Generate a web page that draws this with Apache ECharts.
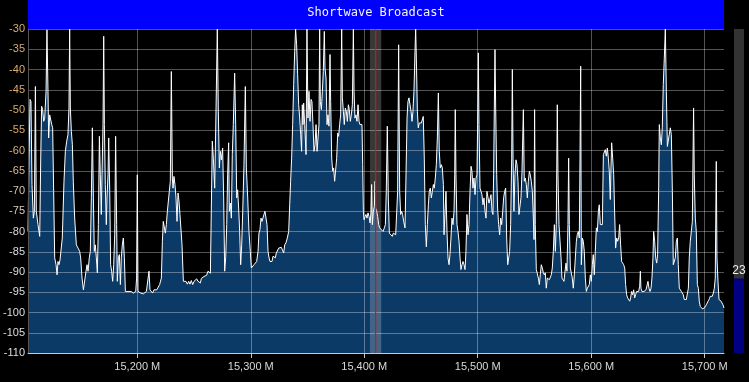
<!DOCTYPE html>
<html>
<head>
<meta charset="utf-8">
<script src="https://cdn.jsdelivr.net/npm/echarts@6/dist/echarts.min.js"></script>
<style>
html,body{margin:0;padding:0;background:#000;}
#c{width:749px;height:382px;}
</style>
</head>
<body>
<div id="c"></div>
<script>
const titleText = 'Shortwave Broadcast';
const freqMin = 15103.7, freqMax = 15717.0;   // kHz shown, labelled "M"
const levelMin = -110, levelMax = -30, levelStep = 5;
const tunedCenter = 15410, filterLow = 15405, filterHigh = 15415;
const meterValue = 23;

const freqKHz = [
15103.7,15104.6,15105.5,15106.3,15107.2,15108.4,15109.3,15110.2,15111.0,15112.5,
15114.0,15114.9,15115.7,15116.6,15117.5,15118.4,15119.6,15120.4,15121.3,15121.9,
15122.8,15123.7,15124.6,15125.4,15126.3,15127.2,15128.4,15129.3,15130.1,15131.0,
15131.9,15133.1,15133.9,15135.4,15136.6,15137.8,15138.9,15139.8,15140.4,15141.0,
15141.9,15142.8,15143.6,15144.8,15146.3,15147.8,15149.2,15150.1,15151.3,15152.5,
15153.6,15154.8,15155.7,15156.6,15157.7,15158.6,15159.5,15160.4,15161.3,15162.1,
15163.0,15163.9,15164.8,15165.7,15166.6,15167.4,15168.3,15168.9,15169.8,15170.4,
15171.0,15171.8,15172.7,15173.3,15174.2,15174.8,15175.7,15176.5,15177.4,15178.3,
15179.2,15180.1,15180.9,15181.8,15182.4,15183.3,15184.2,15185.1,15185.9,15186.8,
15187.7,15188.6,15189.5,15190.6,15191.8,15193.3,15194.7,15195.6,15196.5,15197.7,
15198.6,15199.4,15200.0,15200.6,15201.8,15203.0,15204.1,15205.3,15206.5,15208.0,
15209.4,15210.3,15211.2,15212.4,15213.5,15214.7,15215.9,15217.1,15218.2,15219.7,
15221.2,15222.1,15222.9,15223.8,15224.7,15225.6,15226.5,
15228.2,15229.1,15230.0,15230.9,15231.5,15232.3,15233.2,15234.1,15235.0,15235.9,
15236.8,15237.6,15238.5,15239.4,15240.6,15241.7,15242.9,15244.1,15245.3,15246.4,
15247.6,15248.8,15250.0,15251.1,15252.3,15253.5,15254.7,15255.6,15256.4,15257.6,
15258.8,15260.0,15261.1,15262.3,15263.5,15264.4,15265.2,15266.1,15267.0,15268.2,
15269.4,15270.5,15271.4,15272.3,15273.2,15274.1,15275.2,15276.1,15277.0,15277.9,
15278.8,15279.6,15280.5,15281.1,15282.0,15282.9,15283.7,15284.6,15285.8,15286.7,
15287.6,15288.4,15289.3,15290.2,15291.1,15292.0,15292.9,15294.0,15295.2,15296.1,
15297.3,15298.4,15299.6,15300.5,15301.7,15302.8,15304.0,15305.2,15306.4,15307.2,
15308.1,15309.0,15309.9,15310.8,15311.6,15312.5,15313.4,15314.3,15315.2,15316.1,
15316.9,15317.8,15318.7,15319.6,15320.8,15321.6,15322.5,15323.4,15324.6,15325.2,
15326.0,15326.9,15328.1,15329.0,15329.9,15331.0,15332.2,15333.4,15334.3,15335.1,
15336.0,15336.9,15337.8,15338.7,15339.5,15340.4,15341.3,15342.2,15343.1,15344.0,
15344.8,15345.4,15346.0,15346.6,15347.5,15348.7,
15349.5,15350.4,15351.3,15352.2,15353.1,15353.9,15354.8,15355.7,15356.6,15357.5,
15358.4,15359.2,15360.1,15360.7,15361.3,15362.2,15363.1,15363.9,15364.8,15365.4,
15366.3,15367.2,15368.0,15368.9,15369.8,15370.4,15371.3,15372.2,15373.0,15373.9,
15374.8,15375.7,15376.6,15377.4,15378.3,15379.2,15380.1,15380.7,15381.6,15382.4,
15383.3,15384.2,15385.1,15386.0,15386.8,15387.7,15388.6,15389.5,15390.4,15391.0,
15391.8,15392.7,15393.6,15394.5,15395.4,15396.2,15397.1,15398.0,15398.6,15399.2,
15399.8,15400.7,15401.5,15402.4,15403.3,15404.2,15405.1,15405.9,15406.5,15407.1,
15408.0,15408.9,15409.5,15410.0,15410.9,15411.8,15412.7,15413.6,15414.5,15415.3,
15416.5,15417.7,15418.6,15419.4,15420.3,15421.2,15422.1,15423.0,15423.8,15424.7,
15425.6,15426.5,15427.7,15428.5,15429.4,15430.3,15431.2,15432.1,15432.9,15433.8,
15434.7,15435.9,15436.8,15437.7,15438.5,15439.4,15440.3,15441.2,15442.1,15442.9,
15443.8,15444.7,15445.3,15445.9,15446.8,15447.6,15448.5,15449.4,15450.3,15451.2,
15452.0,15452.9,15453.8,15454.7,15455.6,15456.5,15457.3,15458.2,15459.1,15460.0,
15460.9,15461.7,15462.6,15463.5,15464.4,15465.3,15466.1,15467.0,15467.9,15468.8,
15469.7,
15470.3,15471.1,15472.0,15472.9,15473.8,15474.7,15475.5,15476.4,15477.3,15478.2,
15479.1,15479.7,15480.2,15480.8,15481.7,15482.6,15483.5,15484.4,15485.2,15486.1,
15487.0,15487.9,15488.8,15489.6,15490.5,15491.4,15492.3,15493.2,15494.1,15494.9,
15495.8,15496.7,15497.6,15498.5,15499.3,15499.9,15500.5,15501.1,15502.0,15502.9,
15503.7,15504.6,15505.5,15506.4,15507.3,15508.1,15509.0,15509.9,15510.8,15511.7,
15512.6,15513.4,15514.0,15514.6,15515.2,15515.8,15516.7,15517.5,15518.4,15519.3,
15520.2,15521.1,15522.0,15522.8,15523.7,15524.6,15525.5,15526.4,15527.2,15528.1,
15529.0,15529.9,15530.5,15531.1,15531.9,15532.8,15533.7,15534.6,15535.5,15536.3,
15537.2,15538.1,15539.0,15539.9,15540.2,15541.0,15541.9,15542.8,15543.7,15544.6,
15545.5,15546.3,15547.2,15548.1,15549.0,15549.6,15550.1,15550.7,15551.6,15552.5,
15553.4,15554.3,15555.1,15556.0,15556.9,15557.8,15558.7,15559.5,15560.4,15561.3,
15562.2,15563.1,15563.9,15564.8,15565.7,15566.6,15567.5,15568.4,15569.2,15570.1,
15570.7,15571.6,15572.5,15573.4,15574.2,15575.1,15576.0,15576.9,15577.8,15578.6,
15579.5,15580.1,15580.7,15581.6,15582.5,15583.3,15584.2,15585.1,15586.0,15586.9,
15587.7,15588.6,15589.5,15590.1,15590.7,
15591.3,15592.2,15593.0,15593.9,15594.8,15595.7,15596.6,15597.4,15598.3,15599.2,
15600.1,15601.0,15601.8,15602.7,15603.6,15604.5,15605.4,15606.3,15607.1,15608.0,
15608.9,15609.8,15610.7,15611.5,15612.4,15613.3,15614.2,15615.1,15615.9,15616.8,
15617.4,15618.0,15618.9,15619.8,15620.6,15621.5,15622.4,15623.3,15624.2,15625.0,
15625.9,15626.8,15627.7,15628.6,15629.5,15630.3,15631.2,15632.1,15633.0,15633.9,
15634.7,15635.6,15636.5,15637.4,15638.3,15639.1,15640.0,15640.9,15641.8,15642.7,
15643.3,15643.8,15644.7,15645.6,15646.5,15647.4,15648.3,15649.1,15650.0,15650.9,
15651.8,15652.7,15653.5,15654.4,15655.0,15655.9,15656.8,15657.7,15658.5,15659.4,
15660.0,15660.9,15661.8,15662.6,15663.5,15664.4,15665.3,15666.2,15667.1,15667.9,
15668.8,15669.7,15670.6,15671.5,15672.3,15673.2,15674.1,15675.0,15675.9,15676.7,
15677.6,15678.5,15679.4,15680.3,15681.1,15682.0,15682.9,15683.8,15684.7,15685.6,
15686.4,15687.3,15688.2,15689.1,15689.7,15690.2,15690.8,15691.7,15692.6,15693.5,
15694.4,15695.2,15696.1,15697.0,15697.9,15698.8,15699.7,15700.5,15701.4,15702.3,
15703.2,15704.1,15704.9,15705.8,15706.7,15707.6,15708.5,15709.3,15710.2,15710.8,
15711.7,15712.6,15713.5,15714.4,15715.2,15716.1,15717.0
];

const levelDb = [
-80.0,-61.9,-47.4,-47.9,-68.4,-76.7,-75.0,-44.2,-75.0,-78.3,
-81.2,-61.9,-49.1,-49.9,-52.8,-52.0,-45.4,-30.2,-45.4,-56.9,
-51.2,-51.0,-53.6,-54.4,-70.1,-86.5,-88.2,-90.7,-87.4,-88.2,
-87.0,-87.4,-81.6,-67.6,-60.2,-57.7,-56.1,-49.5,-30.0,-49.5,
-55.3,-58.6,-67.6,-76.7,-83.3,-84.1,-84.9,-86.5,-91.5,-94.4,
-94.4,-89.8,-88.2,-89.8,-86.5,-84.9,-71.7,-54.4,-71.7,-84.9,
-83.3,-86.5,-90.2,-78.3,-56.5,-66.0,-75.8,-66.0,-53.6,-31.8,
-53.6,-68.4,-78.3,-71.7,-66.0,-56.9,-70.1,-88.2,-89.8,-92.3,
-88.2,-80.8,-56.5,-78.3,-92.3,-86.5,-85.7,-93.1,-86.5,-83.3,
-81.6,-86.5,-94.8,-95.2,-94.8,-95.2,-94.8,-94.4,-95.2,-95.6,
-94.8,-91.5,-66.0,-94.8,-94.4,-95.2,-94.8,-95.4,-95.2,-94.8,
-94.4,-89.8,-94.4,-94.8,-95.2,-94.4,-94.0,-94.4,-94.0,-93.1,
-91.5,-82.4,-77.5,-77.1,-80.4,-78.3,-75.0,
-70.1,-67.6,-40.5,-66.8,-69.3,-66.4,-68.4,-71.7,-77.5,-70.5,
-72.6,-75.8,-75.8,-83.3,-92.3,-92.7,-92.3,-93.0,-92.3,-93.0,
-92.1,-93.1,-92.3,-91.9,-91.7,-92.3,-91.9,-92.7,-91.6,-91.9,
-91.1,-90.7,-90.8,-89.8,-89.4,-90.3,-75.0,-57.7,-61.9,-69.3,
-49.5,-30.0,-50.3,-64.3,-60.2,-62.3,-59.4,-71.7,-89.8,-86.5,
-78.3,-66.0,-58.1,-75.0,-73.0,-76.7,-61.0,-53.6,-40.9,-53.6,
-71.7,-69.7,-74.2,-80.0,-88.2,-83.3,-75.0,-63.5,-44.2,-64.3,
-71.7,-80.0,-84.9,-89.0,-88.6,-88.2,-88.2,-87.4,-84.9,-80.4,
-79.5,-76.7,-77.5,-77.1,-75.8,-75.0,-75.0,-78.3,-84.9,-86.5,
-87.4,-87.0,-87.4,-86.1,-85.7,-86.5,-85.3,-84.9,-84.1,-83.7,
-84.5,-83.9,-83.7,-85.3,-83.3,-82.8,-81.6,-80.0,-73.4,-67.6,
-61.9,-53.6,-43.7,-35.5,-30.0,-33.9,-41.3,-48.7,-52.0,-56.1,
-60.2,-48.7,-53.6,-48.3,-53.6,-61.0,
-30.0,-52.0,-45.4,-52.8,-47.4,-47.9,-53.6,-60.2,-58.6,-53.6,
-60.2,-60.6,-53.6,-30.0,-47.9,-49.9,-45.4,-40.5,-30.6,-39.6,
-42.1,-53.6,-51.2,-54.0,-36.3,-47.9,-61.9,-65.1,-64.3,-67.6,
-68.0,-61.9,-55.7,-56.5,-53.6,-51.2,-30.0,-47.0,-50.3,-53.6,
-49.5,-50.3,-52.8,-48.7,-49.9,-52.8,-51.2,-48.7,-30.0,-45.4,
-52.0,-51.2,-52.8,-48.7,-52.8,-53.6,-53.6,-53.6,-63.5,-75.0,
-77.1,-76.3,-75.8,-76.7,-75.4,-76.3,-77.9,-75.4,-68.4,-78.3,
-75.0,-73.8,-67.6,-74.2,-75.0,-76.3,-78.3,-79.1,-78.7,-79.5,
-80.0,-79.1,-78.3,-70.1,-54.0,-71.7,-80.4,-80.8,-80.4,-81.2,
-80.4,-80.8,-80.8,-80.9,-70.1,-33.9,-70.1,-75.8,-75.0,-75.8,
-77.5,-79.1,-66.0,-52.0,-47.9,-47.0,-48.7,-50.3,-52.8,-50.3,
-45.4,-35.5,-30.0,-37.2,-50.3,-54.4,-53.2,-53.6,-53.2,-52.8,
-51.6,-61.9,-78.3,-83.8,-78.3,-73.4,-70.1,-69.3,-71.7,-70.1,
-68.4,-69.3,-66.8,-63.5,-56.9,-45.8,-60.2,-64.3,-63.5,-64.3,
-68.4,
-80.8,-75.8,-70.1,-80.0,-86.5,-88.2,-85.7,-81.6,-76.7,-78.3,
-75.0,-66.0,-49.9,-66.0,-78.3,-80.0,-82.4,-86.5,-89.4,-88.2,
-87.4,-88.2,-89.4,-84.9,-75.8,-80.8,-78.3,-70.1,-63.9,-65.1,
-69.3,-66.8,-70.9,-66.8,-66.0,-53.6,-35.9,-53.6,-69.3,-70.1,
-70.9,-73.4,-71.7,-75.0,-76.7,-70.1,-69.7,-73.0,-73.4,-70.9,
-75.0,-75.8,-66.0,-49.5,-35.1,-49.5,-66.0,-74.2,-78.3,-80.8,
-76.7,-78.3,-75.0,-71.7,-70.1,-69.3,-81.6,-88.2,-87.8,-84.9,
-78.3,-61.9,-40.0,-61.9,-75.0,-66.0,-62.3,-63.5,-67.6,-75.8,
-75.4,-71.7,-65.1,-53.6,-49.9,-67.6,-66.8,-68.4,-71.7,-67.6,
-65.1,-66.0,-67.6,-70.1,-76.7,-82.0,-49.9,-78.3,-89.4,-89.8,
-91.5,-93.1,-90.7,-88.2,-89.0,-90.2,-90.7,-90.2,-94.0,-91.5,
-91.9,-91.9,-91.5,-90.7,-89.0,-84.9,-78.3,-84.9,-78.3,-48.7,
-66.0,-78.3,-82.4,-86.5,-91.5,-91.9,-92.3,-89.8,-87.8,-89.8,
-78.3,-61.9,-78.3,-89.0,-89.0,-91.5,-94.0,-90.7,-86.5,-82.4,
-80.8,-80.0,-81.6,-61.9,-39.2,
-88.2,-81.6,-82.4,-84.9,-91.5,-94.8,-94.0,-94.4,-93.1,-90.7,
-92.3,-88.2,-85.7,-90.7,-84.9,-79.1,-80.0,-75.0,-73.4,-78.3,
-78.3,-78.3,-61.0,-60.6,-59.8,-61.4,-59.4,-61.9,-65.1,-72.1,
-64.3,-58.1,-61.9,-66.0,-75.0,-84.1,-81.6,-82.4,-81.6,-78.3,
-83.3,-87.4,-87.4,-88.2,-89.0,-93.1,-95.6,-96.4,-96.8,-97.2,
-96.4,-94.8,-95.6,-94.4,-96.4,-95.6,-94.8,-94.4,-94.8,-93.5,
-89.8,-94.0,-94.8,-94.8,-94.8,-95.2,-94.4,-94.0,-92.3,-94.0,
-94.8,-94.0,-91.5,-86.5,-80.0,-82.4,-86.5,-87.8,-85.7,-70.1,
-53.6,-56.9,-58.6,-54.4,-43.7,-37.2,-30.0,-45.4,-59.0,-59.4,
-58.6,-54.4,-56.1,-70.1,-88.2,-88.6,-86.5,-82.4,-81.6,-88.2,
-94.0,-94.0,-94.8,-94.8,-95.6,-96.8,-96.4,-96.8,-96.4,-94.0,
-86.5,-82.4,-80.0,-77.5,-61.9,-49.5,-66.0,-76.7,-80.0,-93.1,
-94.0,-97.2,-98.5,-98.9,-99.1,-98.7,-98.9,-98.5,-98.1,-97.7,
-97.1,-96.6,-96.0,-95.6,-96.0,-95.2,-94.0,-91.5,-62.7,-86.5,
-92.3,-96.8,-97.1,-97.2,-97.2,-98.1,-98.9
];

const spectrum = freqKHz.map((f, i) => [f, levelDb[i]]);

function mix(a, b, t) {
  return 'rgb(' + a.map((v, i) => Math.round(v + (b[i] - v) * t)).join(',') + ')';
}
const tan = [216, 170, 110], pale = [220, 222, 230];
function yLabelColor(v) {
  const t = Math.min(1, Math.max(0, (-55 - Number(v)) / 30));
  return mix(tan, pale, t);
}

const chart = echarts.init(document.getElementById('c'), null, { renderer: 'canvas' });
chart.setOption({
  backgroundColor: '#000',
  animation: false,
  graphic: [
    { type: 'rect', left: 28, top: 0, shape: { width: 696, height: 29 }, style: { fill: '#0000ff' }, z: 0 },
    { type: 'text', x: 376, y: 12.5, z: 1,
      style: { text: titleText, fill: '#f4f4ff', font: '12px "DejaVu Sans Mono"', textAlign: 'center', textVerticalAlign: 'middle' } }
  ],
  grid: [
    { left: 28, top: 29, right: 25, bottom: 29 },
    { left: 732, top: 29, width: 14, bottom: 29 }
  ],
  xAxis: [
    { type: 'value', gridIndex: 0, min: freqMin, max: freqMax, z: 3,
      axisLine: { show: true, onZero: false, lineStyle: { color: '#c8c8c8', width: 1 } },
      axisTick: { show: true, length: 5, lineStyle: { color: '#c8c8c8' } },
      axisLabel: { color: '#d8d8d8', fontSize: 11, fontFamily: 'Liberation Sans', margin: 8,
        showMinLabel: false, showMaxLabel: false,
        formatter: v => (Math.abs(v % 100) < 1e-6) ? (Math.round(v).toLocaleString('en-US') + ' M') : '' },
      splitLine: { show: true, showMinLine: true, showMaxLine: false, lineStyle: { color: 'rgba(255,255,255,0.33)', width: 1 } } },
    { type: 'category', gridIndex: 1, data: ['S'], show: false }
  ],
  yAxis: [
    { type: 'value', gridIndex: 0, min: levelMin, max: levelMax, interval: levelStep, z: 3,
      axisLine: { show: true, lineStyle: { color: '#555' } },
      axisTick: { show: false },
      axisLabel: { fontSize: 11, fontFamily: 'Liberation Sans', margin: 3, color: yLabelColor },
      splitLine: { show: true, lineStyle: { color: 'rgba(255,255,255,0.33)', width: 1 } } },
    { type: 'value', gridIndex: 1, min: 0, max: 100, show: false }
  ],
  series: [
    { type: 'line', name: 'spectrum', xAxisIndex: 0, yAxisIndex: 0, data: spectrum,
      symbol: 'none', showSymbol: false, clip: true, z: 2, silent: true,
      lineStyle: { color: '#ffffff', width: 1 },
      areaStyle: { color: '#0c3a66', opacity: 1, origin: 'start' } },
    { type: 'custom', name: 'filter', xAxisIndex: 0, yAxisIndex: 0, z: 4, silent: true,
      data: [[filterLow, levelMin, filterHigh, levelMax]],
      encode: { x: [0, 2], y: [1, 3] },
      renderItem: (params, api) => {
        const p1 = api.coord([api.value(0), api.value(3)]);
        const p2 = api.coord([api.value(2), api.value(1)]);
        return { type: 'rect', shape: { x: p1[0], y: p1[1], width: p2[0] - p1[0], height: p2[1] - p1[1] },
          style: { fill: 'rgba(255,255,255,0.22)' } };
      } },
    { type: 'line', name: 'tuned', xAxisIndex: 0, yAxisIndex: 0, z: 5, silent: true,
      data: [[tunedCenter, levelMin], [tunedCenter, levelMax]],
      symbol: 'none', lineStyle: { color: '#ff0000', width: 1.2 } },
    { type: 'bar', name: 'meter', xAxisIndex: 1, yAxisIndex: 1, data: [meterValue],
      barWidth: 10, showBackground: true, backgroundStyle: { color: '#333333' },
      itemStyle: { color: '#000080' }, silent: true,
      label: { show: true, position: 'top', distance: 2, color: '#f0f0f0', fontSize: 12, fontFamily: 'Liberation Sans' } }
  ]
});
</script>
</body>
</html>
